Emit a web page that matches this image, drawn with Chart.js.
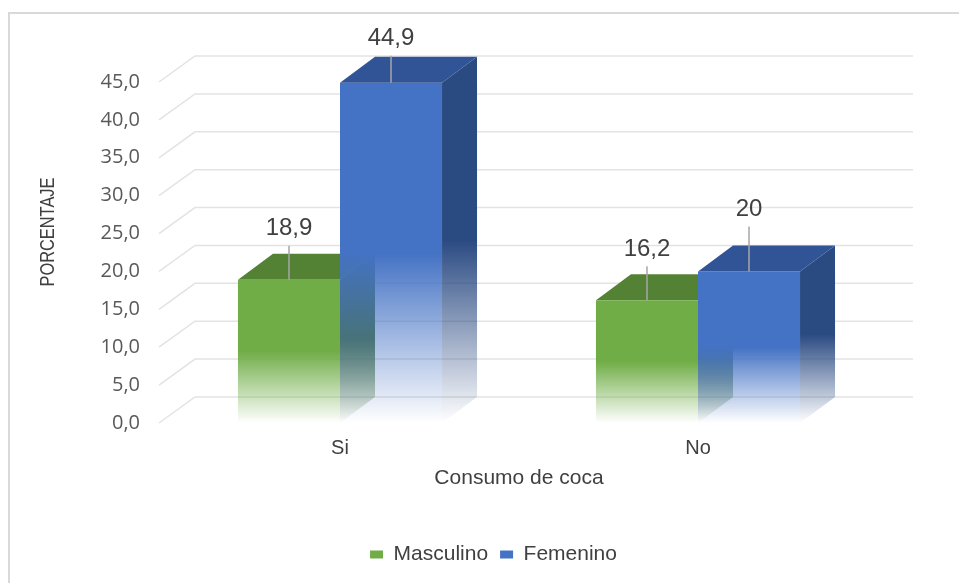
<!DOCTYPE html>
<html>
<head>
<meta charset="utf-8">
<script src="https://cdn.jsdelivr.net/npm/chart.js@4.4.1/dist/chart.umd.min.js"></script>
<style>
  html, body { margin: 0; padding: 0; background: #fff; }
  #wrap { position: relative; width: 959px; height: 583px; overflow: hidden; }
  #frame { position: absolute; left: 8px; top: 12px; width: 980px; height: 600px; border: 2px solid #d9d9d9; box-sizing: border-box; }
  canvas { position: absolute; left: 0; top: 0; }
</style>
</head>
<body>
<div id="wrap">
  <div id="frame"></div>
  <canvas id="chart" width="959" height="583"></canvas>
</div>
<script>
// Consumo de coca según sexo (porcentaje)
const categories = ['Si', 'No'];
const masculino = [18.9, 16.2];
const femenino = [44.9, 20];
const yMax = 45;
const yStep = 5;

// 3D look: depth of the bars and of the back wall
const DX = 35, DY = -26;
const WALL_DX = 36, WALL_DY = -26;
// gap between a value label and the bar top, per dataset/category
const labelLift = [[51, 51], [44, 62]];

const faces = [
  { front: '#70AD47', top: '#548235', side: '#4A7330' },
  { front: '#4472C4', top: '#305496', side: '#2A4A82' }
];

function rgba(hex, a) {
  const n = parseInt(hex.slice(1), 16);
  return `rgba(${n >> 16},${(n >> 8) & 255},${n & 255},${a})`;
}

// solid on the upper half, fading out towards the floor
function fade(ctx, hex, top, bottom) {
  const g = ctx.createLinearGradient(0, top, 0, bottom);
  g.addColorStop(0, rgba(hex, 1));
  g.addColorStop(0.5, rgba(hex, 1));
  g.addColorStop(1, rgba(hex, 0));
  return g;
}

function frontFill(hex) {
  return c => {
    const chart = c.chart;
    if (!chart.chartArea || c.type !== 'data') return hex;
    const y = chart.scales.y;
    return fade(chart.ctx, hex, y.getPixelForValue(c.raw), y.getPixelForValue(0));
  };
}

const fmt = v => String(v).replace('.', ',');

// side and top faces of every bar in one dataset
function drawFaces(chart, i) {
  const ctx = chart.ctx;
  const f = faces[i];
  ctx.save();
  chart.getDatasetMeta(i).data.forEach(bar => {
    const { x, y, base, width } = bar.getProps(['x', 'y', 'base', 'width'], true);
    const l = x - width / 2, r = x + width / 2;
    ctx.fillStyle = fade(ctx, f.side, y + DY, base);
    ctx.beginPath();
    ctx.moveTo(r, y);
    ctx.lineTo(r + DX, y + DY);
    ctx.lineTo(r + DX, base + DY);
    ctx.lineTo(r, base);
    ctx.closePath();
    ctx.fill();
    ctx.fillStyle = f.top;
    ctx.beginPath();
    ctx.moveTo(l, y);
    ctx.lineTo(l + DX, y + DY);
    ctx.lineTo(r + DX, y + DY);
    ctx.lineTo(r, y);
    ctx.closePath();
    ctx.fill();
  });
  ctx.restore();
}

const bar3d = {
  id: 'bar3d',
  beforeDatasetsDraw(chart) {
    const { ctx, chartArea: a, scales: { y } } = chart;
    ctx.save();
    ctx.strokeStyle = '#e3e3e3';
    ctx.lineWidth = 1.5;
    y.ticks.forEach(t => {
      const py = y.getPixelForValue(t.value);
      ctx.beginPath();
      ctx.moveTo(a.left - 2, py);
      ctx.lineTo(a.left + WALL_DX - 2, py + WALL_DY);
      ctx.lineTo(a.right + WALL_DX, py + WALL_DY);
      ctx.stroke();
    });
    ctx.restore();
    // faces of the left series sit behind the fronts of the series to their right
    const n = chart.data.datasets.length;
    for (let i = 0; i < n - 1; i++) drawFaces(chart, i);
  },
  afterDatasetsDraw(chart) {
    const n = chart.data.datasets.length;
    drawFaces(chart, n - 1);

    const ctx = chart.ctx;
    ctx.save();
    ctx.font = '24px "Liberation Sans", Arial, sans-serif';
    ctx.textAlign = 'center';
    ctx.textBaseline = 'middle';
    chart.data.datasets.forEach((ds, i) => {
      chart.getDatasetMeta(i).data.forEach((bar, j) => {
        const ly = bar.y - labelLift[i][j];
        ctx.strokeStyle = '#a6a6a6';
        ctx.lineWidth = 1.5;
        ctx.beginPath();
        ctx.moveTo(bar.x, ly + 17);
        ctx.lineTo(bar.x, bar.y);
        ctx.stroke();
        ctx.fillStyle = '#404040';
        ctx.fillText(fmt(ds.data[j]), bar.x, ly);
      });
    });
    // vertical axis title, set a little condensed
    ctx.font = '21px "Liberation Sans", Arial, sans-serif';
    ctx.translate(48, 232);
    ctx.rotate(-Math.PI / 2);
    ctx.scale(0.78, 1);
    ctx.fillText('PORCENTAJE', 0, 0);
    ctx.restore();
  }
};

Chart.defaults.font.family = '"Liberation Sans", Arial, sans-serif';
Chart.defaults.color = '#404040';

new Chart(document.getElementById('chart'), {
  type: 'bar',
  data: {
    labels: categories,
    datasets: [
      { label: 'Masculino', data: masculino, backgroundColor: frontFill(faces[0].front) },
      { label: 'Femenino', data: femenino, backgroundColor: frontFill(faces[1].front) }
    ]
  },
  options: {
    responsive: false,
    animation: false,
    events: [],
    layout: { padding: { left: 28, right: 0, top: 82, bottom: 8 } },
    datasets: { bar: { categoryPercentage: 0.57, barPercentage: 1, borderWidth: 0, clip: false } },
    scales: {
      x: {
        grid: { display: false, drawTicks: false },
        border: { display: false },
        ticks: { padding: 13, color: '#404040', font: { size: 20 } },
        title: { display: true, text: 'Consumo de coca', color: '#404040', font: { size: 21 }, padding: { top: 0, bottom: 41 } },
        afterFit(s) { s.height = 109; }
      },
      y: {
        min: 0,
        max: yMax,
        grid: { display: false, drawTicks: false },
        border: { display: false },
        ticks: {
          stepSize: yStep,
          padding: 21,
          color: '#595959',
          font: { family: '"Open Sans", sans-serif', size: 20 },
          callback: v => v.toFixed(1).replace('.', ',')
        },
        afterFit(s) { s.width = 133; }
      },
      side: {
        position: 'right',
        grid: { display: false, drawTicks: false },
        border: { display: false },
        ticks: { display: false },
        afterFit(s) { s.width = 82; }
      }
    },
    plugins: {
      legend: {
        position: 'bottom',
        labels: {
          boxWidth: 13,
          boxHeight: 8,
          padding: 12,
          color: '#404040',
          font: { size: 21 },
          generateLabels(chart) {
            return Chart.defaults.plugins.legend.labels.generateLabels(chart).map((item, i) => {
              item.fillStyle = faces[i].front;
              item.strokeStyle = faces[i].front;
              item.lineWidth = 0;
              return item;
            });
          }
        }
      },
      tooltip: { enabled: false }
    }
  },
  plugins: [bar3d]
});
</script>
</body>
</html>
